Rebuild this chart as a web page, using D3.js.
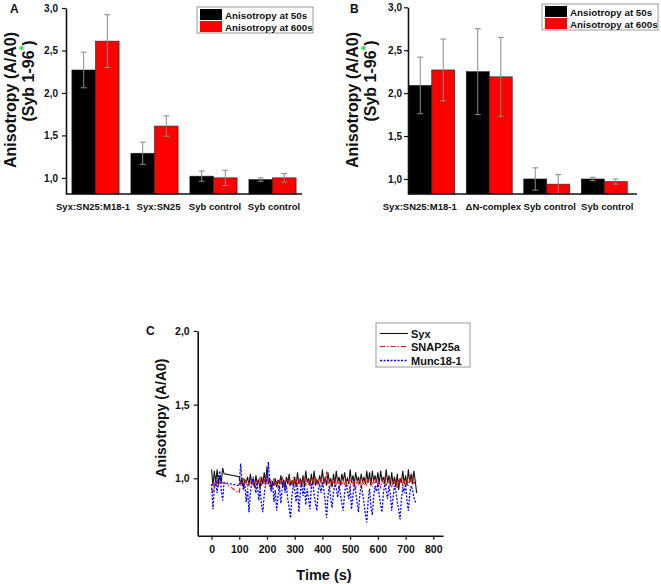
<!DOCTYPE html>
<html>
<head>
<meta charset="utf-8">
<title>Anisotropy</title>
<script src="https://d3js.org/d3.v7.min.js"></script>
<style>
  body { margin: 0; background: #fff; }
  svg text { font-family: "Liberation Sans", Arial, sans-serif; font-weight: bold; fill: #111; }
</style>
</head>
<body>
<script>
// ---- panel A data ----
var catsA = ["Syx:SN25:M18-1", "Syx:SN25", "Syb control", "Syb control"];
var a50 = [2.27, 1.29, 1.02, 0.98];
var a50Err = [0.21, 0.13, 0.06, 0.02];
var a600 = [2.61, 1.61, 1.00, 1.00];
var a600Err = [0.31, 0.12, 0.09, 0.05];
var legendA = ["Anisotropy at 50s", "Anisotropy at 600s"];

// ---- panel B data ----
var catsB = ["Syx:SN25:M18-1", "\u0394N-complex", "Syb control", "Syb control"];
var b50 = [2.09, 2.25, 1.00, 1.00];
var b50Err = [0.33, 0.50, 0.13, 0.02];
var b600 = [2.27, 2.19, 0.94, 0.97];
var b600Err = [0.36, 0.46, 0.11, 0.03];
var legendB = ["Ansiotropy at 50s", "Anisotropy at 600s"];

var barTicks = [1.0, 1.5, 2.0, 2.5, 3.0];

// ---- panel C data ----
var timeC = [0,5,10,15,20,25,30,35,40,45,
  100,105,110,115,120,125,130,135,140,145,150,155,160,165,170,175,180,185,190,195,
  200,205,210,215,220,225,230,235,240,245,250,255,260,265,270,275,280,285,290,295,
  300,305,310,315,320,325,330,335,340,345,350,355,360,365,370,375,380,385,390,395,
  400,405,410,415,420,425,430,435,440,445,450,455,460,465,470,475,480,485,490,495,
  500,505,510,515,520,525,530,535,540,545,550,555,560,565,570,575,580,585,590,595,
  600,605,610,615,620,625,630,635,640,645,650,655,660,665,670,675,680,685,690,695,
  700,705,710,715,720,725,730,735,740];
var syx = [1.06,0.95,1.05,0.97,1.06,0.96,1.02,0.97,1.07,1.03,
  1.01,0.96,1.00,0.94,0.99,0.97,1.01,0.95,1.03,0.96,
  1.00,0.94,1.02,0.96,0.99,0.93,1.01,0.96,1.04,0.97,
  1.08,0.96,1.00,0.93,0.98,0.95,1.00,0.94,0.99,0.96,
  1.02,0.95,0.99,0.93,1.01,0.96,1.03,0.95,0.98,0.96,
  1.01,0.94,1.04,0.96,1.00,0.95,1.02,0.94,1.05,0.97,
  1.00,0.95,1.03,0.96,1.05,0.95,0.99,0.96,1.02,0.97,
  1.06,0.96,1.01,0.95,1.04,0.97,1.00,0.94,1.03,0.96,
  1.05,0.97,1.01,0.95,1.03,0.98,1.04,0.97,1.00,0.96,
  1.06,0.97,1.02,0.96,1.04,0.98,1.01,0.96,1.03,0.97,
  1.01,0.96,1.05,0.97,1.04,0.95,1.05,0.98,1.02,0.97,
  1.04,0.96,1.05,0.98,1.01,0.96,1.06,0.97,1.02,0.95,
  1.04,0.96,1.01,0.94,1.03,0.92,1.00,0.97,1.05,0.96,
  1.02,0.95,1.06,0.97,1.03,0.96,1.05,0.98,0.90];
var snap25a = [0.93,0.90,0.97,0.94,0.99,0.95,0.98,0.96,0.97,0.97,
  0.90,0.98,0.95,1.00,0.96,0.99,0.94,0.98,0.96,1.00,
  0.95,0.98,0.93,0.99,0.96,1.01,0.95,0.99,0.97,1.02,
  0.96,0.99,0.94,0.98,0.96,1.00,0.95,0.98,0.93,0.99,
  0.96,1.01,0.94,0.98,0.97,1.00,0.95,0.99,0.96,1.01,
  0.95,0.98,0.96,1.00,0.94,0.99,0.97,1.01,0.95,0.98,
  0.96,1.00,0.94,0.99,0.97,1.01,0.95,0.98,0.96,1.00,
  0.95,0.99,0.97,1.05,0.96,1.00,0.94,0.98,0.96,1.00,
  0.95,0.99,0.93,0.98,0.96,1.00,0.95,0.98,0.94,0.99,
  0.96,1.00,0.95,0.98,0.93,0.99,0.96,1.00,0.94,0.98,
  0.96,0.99,0.95,1.00,0.97,0.98,0.94,0.99,0.96,1.00,
  0.95,0.98,0.93,0.99,0.96,1.01,0.95,0.98,0.97,1.00,
  0.94,0.98,0.96,1.00,0.93,0.99,0.96,1.01,0.94,0.98,
  0.96,1.00,0.95,0.99,0.97,1.02,0.96,0.99,0.97];
var munc18 = [0.96,0.79,0.93,0.99,0.90,1.01,1.05,0.92,0.85,0.97,
  0.95,1.10,0.97,0.92,0.96,0.84,0.93,0.77,0.90,0.97,
  1.01,0.95,0.90,0.97,0.85,0.93,0.82,0.77,0.89,0.96,
  0.99,1.11,0.96,0.91,0.97,0.84,0.92,0.78,0.88,0.95,
  0.83,0.93,0.98,0.90,0.95,0.86,0.80,0.73,0.88,0.96,
  0.92,0.84,0.95,0.77,0.90,0.97,0.88,0.95,0.82,0.93,
  0.86,0.79,0.94,0.97,0.89,0.83,0.78,0.92,0.96,0.90,
  0.97,0.92,0.85,0.73,0.88,0.95,0.86,0.80,0.91,0.96,
  0.93,0.87,0.95,0.89,0.83,0.78,0.90,0.96,0.92,0.86,
  0.95,0.79,0.88,0.96,0.91,0.84,0.77,0.89,0.95,0.90,
  0.83,0.76,0.70,0.85,0.93,0.80,0.75,0.88,0.95,0.91,
  0.97,0.88,0.82,0.77,0.90,0.96,0.92,0.86,0.95,0.89,
  0.78,0.87,0.95,0.91,0.84,0.79,0.72,0.86,0.94,0.90,
  0.96,0.85,0.78,0.89,0.95,0.92,0.87,0.84,0.85];
var seriesNames = ["Syx", "SNAP25a", "Munc18-1"];
var ticksCy = [1.0, 1.5, 2.0];
var ticksCx = [0, 100, 200, 300, 400, 500, 600, 700, 800];

var comma = function (d) { return d.toFixed(1).replace(".", ","); };

var svg = d3.select("body").append("svg")
  .attr("width", 661)
  .attr("height", 584);

function styleAxis(g, size) {
  g.select(".domain").attr("stroke", "#111").attr("stroke-width", 1.6);
  g.selectAll(".tick line").attr("stroke", "#111").attr("stroke-width", 1.2);
  g.selectAll(".tick text").attr("font-size", size).attr("font-weight", "bold")
    .attr("font-family", "'Liberation Sans', Arial, sans-serif").attr("fill", "#111");
}

function barPanel(p) {
  var y = d3.scaleLinear().domain(p.yDomain).range([194, p.yTop]);
  var x0 = d3.scaleBand().domain(d3.range(p.cats.length)).range(p.band)
    .paddingInner(0.2).paddingOuter(0.1);
  var x1 = d3.scaleBand().domain([0, 1]).range([0, x0.bandwidth()]);
  var vals = [p.v50, p.v600], errs = [p.e50, p.e600], cols = ["#000", "#ff0000"];

  var g = svg.append("g");
  [0, 1].forEach(function (s) {
    g.selectAll(null).data(vals[s]).enter().append("rect")
      .attr("x", function (d, i) { return x0(i) + x1(s); })
      .attr("y", function (d) { return y(d); })
      .attr("width", x1.bandwidth())
      .attr("height", function (d) { return 194 - y(d); })
      .attr("fill", cols[s])
      .attr("stroke", "#222").attr("stroke-width", 0.6);
  });
  [0, 1].forEach(function (s) {
    var eb = g.selectAll(null).data(vals[s]).enter().append("g")
      .attr("stroke", "#8a8a8a").attr("stroke-width", 1);
    var cx = function (d, i) { return x0(i) + x1(s) + x1.bandwidth() / 2; };
    eb.append("line")
      .attr("x1", cx).attr("x2", cx)
      .attr("y1", function (d, i) { return y(d - errs[s][i]); })
      .attr("y2", function (d, i) { return y(d + errs[s][i]); });
    eb.append("line")
      .attr("x1", function (d, i) { return cx(d, i) - 3; })
      .attr("x2", function (d, i) { return cx(d, i) + 3; })
      .attr("y1", function (d, i) { return y(d + errs[s][i]); })
      .attr("y2", function (d, i) { return y(d + errs[s][i]); });
    eb.append("line")
      .attr("x1", function (d, i) { return cx(d, i) - 3; })
      .attr("x2", function (d, i) { return cx(d, i) + 3; })
      .attr("y1", function (d, i) { return y(d - errs[s][i]); })
      .attr("y2", function (d, i) { return y(d - errs[s][i]); });
  });

  var ya = svg.append("g").attr("transform", "translate(" + p.axisX + ",0)")
    .call(d3.axisLeft(y).tickValues(barTicks).tickFormat(comma).tickSize(4).tickPadding(p.tickPad).tickSizeOuter(0));
  styleAxis(ya, 10);
  svg.append("line").attr("x1", p.axisX).attr("x2", p.axisEnd)
    .attr("y1", 194).attr("y2", 194).attr("stroke", "#111").attr("stroke-width", 1.6);

  svg.selectAll(null).data(p.cats).enter().append("text")
    .attr("x", function (d, i) { return x0(i) + x0.bandwidth() / 2 + p.labelShift[i]; })
    .attr("y", 210)
    .attr("text-anchor", "middle").attr("font-size", p.labelSize)
    .text(function (d) { return d; });

  // legend
  var lg = svg.append("g");
  lg.append("rect").attr("x", p.leg[0]).attr("y", p.leg[1]).attr("width", 116).attr("height", 26)
    .attr("fill", "#fff").attr("stroke", "#999").attr("stroke-width", 1);
  p.legText.forEach(function (t, i) {
    lg.append("rect").attr("x", p.leg[0] + 3).attr("y", p.leg[1] + 2 + i * 12)
      .attr("width", 22).attr("height", 11).attr("fill", cols[i]);
    lg.append("text").attr("x", p.leg[0] + 28).attr("y", p.leg[1] + 11.5 + i * 12)
      .attr("font-size", 9.8).text(t);
  });

  // panel letter
  svg.append("text").attr("x", p.letter[0]).attr("y", p.letter[1])
    .attr("font-size", 12).text(p.label);

  // y title, two lines
  svg.append("text").attr("transform", "translate(" + p.titleX + ",100) rotate(-90)")
    .attr("text-anchor", "middle").attr("font-size", 16).text("Anisotropy (A/A0)");
  var t2 = svg.append("text").attr("transform", "translate(" + (p.titleX + 18) + ",81) rotate(-90)")
    .attr("text-anchor", "middle").attr("font-size", 16);
  t2.append("tspan").text("(Syb 1-96");
  t2.append("tspan").attr("dy", -6).attr("font-size", 12).style("fill", "#22dd33").text("*");
  t2.append("tspan").attr("dy", 6).text(")");
}

barPanel({
  label: "A", letter: [10, 13], cats: catsA, v50: a50, e50: a50Err, v600: a600, e600: a600Err,
  yDomain: [0.81, 3.0], yTop: 8, band: [66, 302], axisX: 66, axisEnd: 302, tickPad: 4,
  leg: [197, 7], legText: legendA, titleX: 16, labelShift: [-2.5, 4, 1.5, 1.5], labelSize: 9.5
});
barPanel({
  label: "B", letter: [350, 13], cats: catsB, v50: b50, e50: b50Err, v600: b600, e600: b600Err,
  yDomain: [0.825, 3.0], yTop: 7.3, band: [403, 633], axisX: 408, axisEnd: 637, tickPad: 2,
  leg: [542, 4], legText: legendB, titleX: 358, labelShift: [-12, 4, 3, 3], labelSize: 9.5
});

// ---- panel C ----
var xC = d3.scaleLinear().domain([-50, 835]).range([197.7, 443]);
var yC = d3.scaleLinear().domain([0.61, 2.0]).range([535.7, 331]);

var line = d3.line().x(function (d) { return xC(d[0]); }).y(function (d) { return yC(d[1]); });
var series = [
  { name: seriesNames[0], vals: syx, color: "#111", dash: null, w: 1.1 },
  { name: seriesNames[1], vals: snap25a, color: "#e8141c", dash: "5,2,1.5,2", w: 1.1 },
  { name: seriesNames[2], vals: munc18, color: "#0000ff", dash: "2,1.5", w: 1.3 }
];
var gl = svg.append("g");
series.forEach(function (s) {
  gl.append("path")
    .datum(timeC.map(function (t, i) { return [t, s.vals[i]]; }))
    .attr("d", line)
    .attr("fill", "none")
    .attr("stroke", s.color)
    .attr("stroke-width", s.w)
    .attr("stroke-dasharray", s.dash);
});

var yaC = svg.append("g").attr("transform", "translate(197.7,0)")
  .call(d3.axisLeft(yC).tickValues(ticksCy).tickFormat(comma).tickSize(4).tickPadding(4).tickSizeOuter(0));
styleAxis(yaC, 10.5);
var xaC = svg.append("g").attr("transform", "translate(0,535.7)")
  .call(d3.axisBottom(xC).tickValues(ticksCx).tickFormat(d3.format("d")).tickSize(4).tickPadding(6).tickSizeOuter(0));
styleAxis(xaC, 10.5);

svg.append("text").attr("x", 324).attr("y", 580).attr("text-anchor", "middle")
  .attr("font-size", 14.5).text("Time (s)");
svg.append("text").attr("transform", "translate(166,418) rotate(-90)")
  .attr("text-anchor", "middle").attr("font-size", 14).text("Anisotropy (A/A0)");
svg.append("text").attr("x", 146).attr("y", 335).attr("font-size", 12).text("C");

var lc = svg.append("g");
lc.append("rect").attr("x", 376).attr("y", 323).attr("width", 94).attr("height", 44)
  .attr("fill", "#fff").attr("stroke", "#999").attr("stroke-width", 1);
series.forEach(function (s, i) {
  var yy = Math.round(333 + i * 13.3) + 0.5;
  lc.append("line").attr("x1", 380).attr("x2", 408).attr("y1", yy).attr("y2", yy)
    .attr("stroke", s.color).attr("stroke-width", s.w).attr("stroke-dasharray", s.dash);
  lc.append("text").attr("x", 411).attr("y", yy + 4).attr("font-size", 11).text(s.name);
});
</script>
</body>
</html>
